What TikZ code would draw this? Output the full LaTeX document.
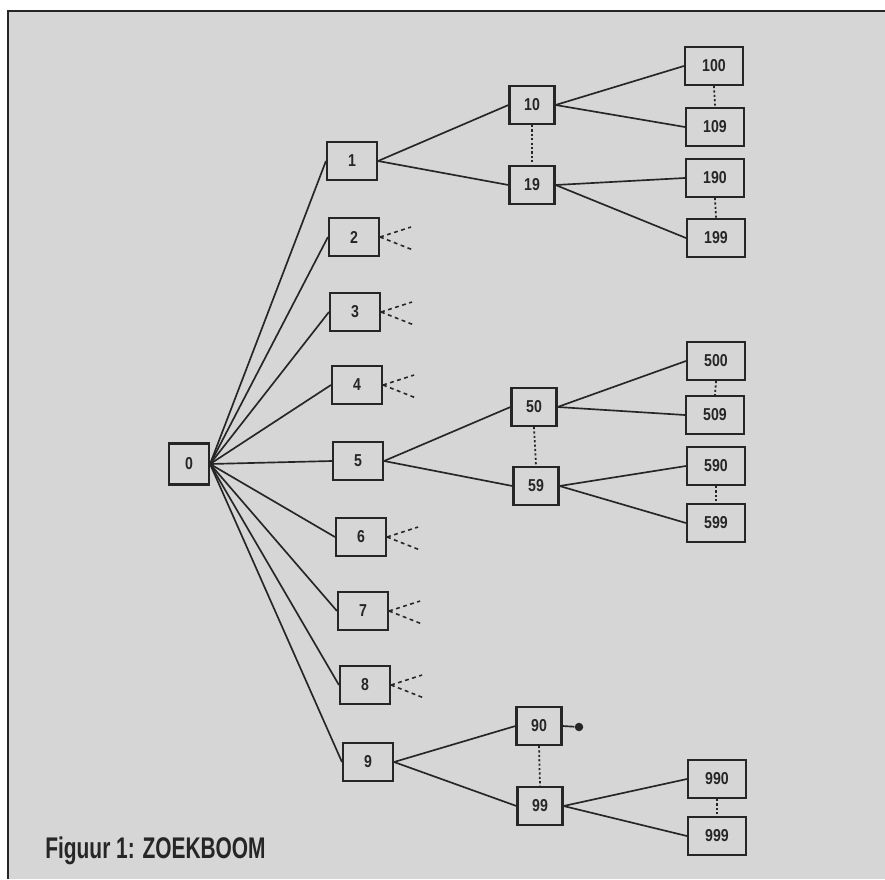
\documentclass[tikz,border=0pt]{standalone}
\usepackage{fontspec}
\newfontfamily\cfont{Liberation Sans Bold}[FakeStretch=0.82]
\newfontfamily\capfont{Liberation Sans Bold}[FakeStretch=0.7]
\definecolor{paper}{rgb}{0.84,0.84,0.84}
\definecolor{ink}{rgb}{0.15,0.15,0.15}
\tikzset{
  x=0.02cm, y=-0.02cm,
  box/.style={draw=ink, line width=1.2pt, fill=paper, inner sep=0pt, minimum height=0.76cm,
    font=\cfont\fontsize{9.8}{11}\selectfont, text=ink},
  boxa/.style={box, minimum width=1.0cm},
  boxb/.style={box, minimum width=0.9cm},
  boxc/.style={box, minimum width=1.16cm},
  edge/.style={draw=ink, line width=0.95pt},
  stub/.style={draw=ink, line width=0.9pt, dash pattern=on 2.2pt off 2pt},
  dots/.style={draw=ink, line width=1pt, dash pattern=on 1.2pt off 1.3pt},
}
\begin{document}
\begin{tikzpicture}
\useasboundingbox (0,0) rectangle (885,879);
\fill[white] (0,0) rectangle (885,879);
\fill[paper] (8,11) rectangle (885,879);
\draw[ink, line width=1.6pt] (8,879) -- (8,11) -- (885,11);

% level 0
\node[box, minimum width=0.8cm, minimum height=0.82cm] (n0) at (189,464) {0};
% level 1
\node[boxa] (n1) at (352,161) {1};
\node[boxa] (n2) at (354,237) {2};
\node[boxa] (n3) at (355,312) {3};
\node[boxa] (n4) at (357,385) {4};
\node[boxa] (n5) at (358,461) {5};
\node[boxa] (n6) at (361,537) {6};
\node[boxa] (n7) at (363,611) {7};
\node[boxa] (n8) at (365,685) {8};
\node[boxa] (n9) at (368,762) {9};
% level 2
\node[boxb] (n10) at (532,105) {10};
\node[boxb] (n19) at (532,185) {19};
\node[boxb] (n50) at (534,407) {50};
\node[boxb] (n59) at (536,486) {59};
\node[boxb] (n90) at (539,726) {90};
\node[boxb] (n99) at (540,806) {99};
% level 3
\node[boxc] (n100) at (714,66) {100};
\node[boxc] (n109) at (715,127) {109};
\node[boxc] (n190) at (715,178) {190};
\node[boxc] (n199) at (716,238) {199};
\node[boxc] (n500) at (716,361) {500};
\node[boxc] (n509) at (715,415) {509};
\node[boxc] (n590) at (716,466) {590};
\node[boxc] (n599) at (716,523) {599};
\node[boxc] (n990) at (717,779) {990};
\node[boxc] (n999) at (717,836) {999};

% edges from root
\foreach \k in {1,...,9}{\draw[edge] (n0.east) -- (n\k.west);}
% level 1 -> 2
\draw[edge] (n1.east) -- (n10.west);
\draw[edge] (n1.east) -- (n19.west);
\draw[edge] (n5.east) -- (n50.west);
\draw[edge] (n5.east) -- (n59.west);
\draw[edge] (n9.east) -- (n90.west);
\draw[edge] (n9.east) -- (n99.west);
% level 2 -> 3
\draw[edge] (n10.east) -- (n100.west);
\draw[edge] (n10.east) -- (n109.west);
\draw[edge] (n19.east) -- (n190.west);
\draw[edge] (n19.east) -- (n199.west);
\draw[edge] (n50.east) -- (n500.west);
\draw[edge] (n50.east) -- (n509.west);
\draw[edge] (n59.east) -- (n590.west);
\draw[edge] (n59.east) -- (n599.west);
\draw[edge] (n99.east) -- (n990.west);
\draw[edge] (n99.east) -- (n999.west);

% dotted ellipsis links
\draw[dots] (n10.south) -- (n19.north);
\draw[dots] (n100.south) -- (n109.north);
\draw[dots] (n190.south) -- (n199.north);
\draw[dots] (n50.south) -- (n59.north);
\draw[dots] (n500.south) -- (n509.north);
\draw[dots] (n590.south) -- (n599.north);
\draw[dots] (n90.south) -- (n99.north);
\draw[dots] (n990.south) -- (n999.north);

% stubs
\foreach \k in {2,3,4,6,7,8}{
  \path (n\k.east) ++(31,-10) coordinate (su\k);
  \path (n\k.east) ++(33,13) coordinate (sd\k);
  \draw[stub] (n\k.east) -- (su\k);
  \draw[stub] (n\k.east) -- (sd\k);
}

% terminal dot
\node[circle, fill=ink, inner sep=0pt, minimum size=0.17cm] (end90) at (579,727) {};
\draw[edge] (n90.east) -- (end90);

% caption
\node[anchor=base west, inner sep=0pt, text=ink, font=\capfont\fontsize{17}{19}\selectfont] (cap) at (45,858) {Figuur 1: ZOEKBOOM};
\end{tikzpicture}
\end{document}
